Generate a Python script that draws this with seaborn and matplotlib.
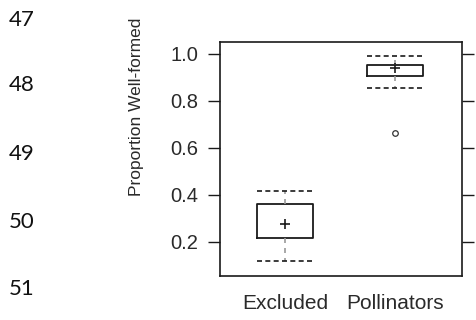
import matplotlib
matplotlib.use("Agg")
import matplotlib.pyplot as plt
import seaborn as sns
import pandas as pd

# ---- data ----
groups = ["Excluded", "Pollinators"]
excluded = [0.12, 0.215, 0.275, 0.36, 0.415]
pollinators = [0.665, 0.855, 0.905, 0.925, 0.94, 0.945, 0.955, 0.975, 0.99]
y_ticks = [0.2, 0.4, 0.6, 0.8, 1.0]
y_tick_labels = ["0.2", "0.4", "0.6", "0.8", "1.0"]
y_label = "Proportion Well-formed"
line_numbers = ["47", "48", "49", "50", "51"]

df = pd.DataFrame({
    "group": [groups[0]] * len(excluded) + [groups[1]] * len(pollinators),
    "value": excluded + pollinators,
})

sns.set_theme(style="white")
sans = ["Liberation Sans Narrow", "Liberation Sans", "DejaVu Sans"]
plt.rcParams["font.family"] = sans

W, H = 476, 320
ink = "#1a1a1a"
fig = plt.figure(figsize=(W / 100, H / 100), dpi=100)
fig.patch.set_facecolor("white")
ax = fig.add_axes([220 / W, 1 - 276 / H, 242 / W, 234 / H])
ax.set_facecolor("white")

sns.boxplot(
    data=df, x="group", y="value", order=groups, ax=ax,
    fill=False, width=0.51, color=ink, linecolor=ink, linewidth=1.3,
    whis=1.5, fliersize=4,
    capwidths=0.51,
    boxprops=dict(color=ink, linewidth=1.3),
    whiskerprops=dict(color="#9a9a9a", linestyle=(0, (3, 3)), linewidth=1.2),
    capprops=dict(color=ink, linestyle=(0, (3, 2)), linewidth=1.2),
    medianprops=dict(linestyle="none"),
    flierprops=dict(marker="o", markerfacecolor="white",
                    markeredgecolor="#333333", markersize=4, markeredgewidth=0.9),
)
sns.pointplot(
    data=df, x="group", y="value", order=groups, ax=ax,
    estimator="median", errorbar=None, color=ink,
    marker="+", linestyle="none", markersize=7, markeredgewidth=1.2,
)

ax.set_xlim(-0.59, 1.61)
ax.set_ylim(0.055, 1.051)
ax.set_yticks(y_ticks)
ax.set_yticklabels(y_tick_labels)
ax.set_xlabel("")
ax.set_ylabel("")

for s in ax.spines.values():
    s.set_visible(True)
    s.set_color(ink)
    s.set_linewidth(1.2)

ax.tick_params(axis="y", which="both", left=True, right=True, labelright=False,
               direction="out", length=8.5, width=1.0, color=ink,
               pad=7, labelsize=14.5, labelcolor="#2a2a2a")
ax.tick_params(axis="x", bottom=False, length=0, pad=13, labelsize=15,
               labelcolor="#2a2a2a")
for lab in ax.get_xticklabels() + ax.get_yticklabels():
    lab.set_family(sans)

fig.text(137 / W, 1 - 107 / H, y_label, rotation=90, ha="center", va="center",
         fontsize=12.5, color="#2a2a2a", family=sans)

line_y = [20, 85, 154, 222, 289]
for txt, yy in zip(line_numbers, line_y):
    fig.text(9 / W, 1 - yy / H, txt, ha="left", va="center", fontsize=16,
             color="#111111", family=["Lato", "DejaVu Sans"])

fig.savefig("out.png", dpi=100, facecolor="white")
